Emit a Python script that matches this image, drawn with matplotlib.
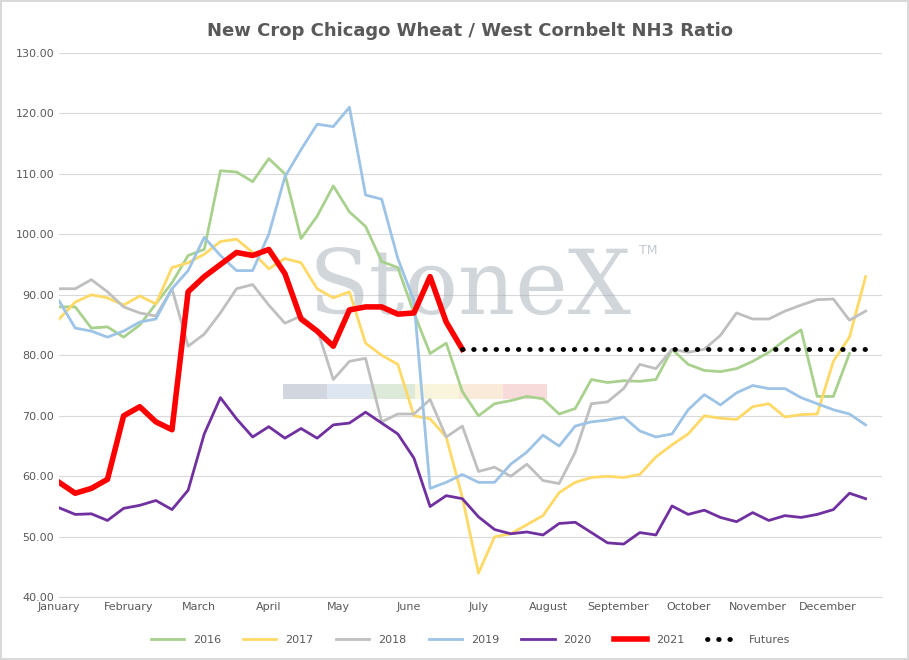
import matplotlib.pyplot as plt

import numpy as np

data = {
  '2016': [88, 88, 84.5, 84.7, 83, 85, 88.5, 92, 96.5, 97.5, 110.5, 110.3, 108.7, 112.5, 110, 99.3, 103, 108, 103.7, 101.3, 95.5, 94.5, 87, 80.3, 82, 74, 70, 72, 72.5, 73.2, 72.8, 70.3, 71.2, 76, 75.5, 75.8, 75.7, 76, 81, 78.5, 77.5, 77.3, 77.8, 79, 80.5, 82.5, 84.2, 73.2, 73.2, 80.3],
  '2017': [86, 88.8, 90, 89.5, 88.3, 89.8, 88.5, 94.5, 95.3, 96.7, 98.8, 99.2, 97, 94.3, 96, 95.3, 91, 89.5, 90.5, 82, 80, 78.5, 70, 69.5, 66.5, 56.5, 44, 50, 50.5, 52, 53.5, 57.3, 59, 59.8, 60, 59.8, 60.3, 63.2, 65.2, 67, 70, 69.6, 69.4, 71.5, 72, 69.8, 70.2, 70.3, 79, 83, 93],
  '2018': [91, 91, 92.5, 90.5, 88, 87, 86.5, 91, 81.5, 83.5, 87, 91, 91.7, 88.3, 85.3, 86.5, 84.3, 76, 79, 79.5, 69, 70.3, 70.3, 72.7, 66.5, 68.3, 60.8, 61.5, 60, 62, 59.3, 58.8, 64, 72, 72.3, 74.5, 78.5, 77.8, 81, 80.5, 81, 83.3, 87, 86, 86, 87.3, 88.3, 89.2, 89.3, 85.8, 87.3],
  '2019': [89, 84.5, 84, 83, 84, 85.5, 86, 91, 94, 99.5, 96.5, 94, 94, 100, 109.5, 114, 118.2, 117.8, 121, 106.5, 105.8, 96, 89, 58, 59, 60.3, 59, 59, 62, 64, 66.8, 65, 68.3, 69, 69.3, 69.8, 67.5, 66.5, 67, 71, 73.5, 71.8, 73.8, 75, 74.5, 74.5, 73, 72, 71, 70.3, 68.5],
  '2020': [54.8, 53.7, 53.8, 52.7, 54.7, 55.2, 56, 54.5, 57.7, 67, 73, 69.5, 66.5, 68.2, 66.3, 67.9, 66.3, 68.5, 68.8, 70.6, 68.8, 67, 63, 55, 56.8, 56.3, 53.3, 51.2, 50.5, 50.8, 50.3, 52.2, 52.4, 50.7, 49, 48.8, 50.7, 50.3, 55.1, 53.7, 54.4, 53.2, 52.5, 54, 52.7, 53.5, 53.2, 53.7, 54.5, 57.2, 56.3],
  '2021': [59, 57.2, 58, 59.5, 70, 71.5, 69, 67.7, 90.5, 93, 95, 97, 96.5, 97.5, 93.5, 86, 84, 81.5, 87.5, 88, 88, 86.8, 87, 93, 85.5, 81],
}

colors = {'2016': '#a9d18e', '2017': '#ffd966', '2018': '#bfbfbf', '2019': '#9dc3e6', '2020': '#7030a0', '2021': '#ff0000'}

futures = 81.0 # flat futures ratio

months = ['January', 'February', 'March', 'April', 'May', 'June', 'July', 'August', 'September', 'October', 'November', 'December']

fig = plt.figure(figsize = (9.09, 6.6), facecolor = 'white', edgecolor = '#d9d9d9', linewidth = 1.5)

ax = plt.gca()

for year, vals in data.items():
  lw = 4 if year == '2021' else 2
  ax.plot(np.arange(len(vals)), vals, color = colors[year], lw = lw, label = year, zorder = 3 if year == '2021' else 2)

ax.plot(np.arange(25, 51), [futures] * 26, ls = (0, (0.1, 2.2)), lw = 3.5, color = 'black', dash_capstyle = 'round', label = 'Futures', zorder = 3)

# watermark
ax.text(0.5, 0.565, 'StoneX', transform = ax.transAxes, fontsize = 64, family = 'serif', color = '#9aa5b1', alpha = 0.45, ha = 'center', va = 'center', zorder = 1)
ax.text(0.705, 0.63, 'TM', transform = ax.transAxes, fontsize = 9, color = '#9aa5b1', alpha = 0.6, zorder = 1)
wm = ['#b4bcc8', '#c8d6e8', '#c9dcc0', '#f4efc6', '#f7dcc0', '#f2c4c4']
for i, c in enumerate(wm):
  ax.axhspan(72.7, 75.3, xmin = 0.272 + i * 0.0535, xmax = 0.3255 + i * 0.0535, color = c, alpha = 0.6, lw = 0, zorder = 1)

ax.set_ylim(40, 130)
ax.set_xlim(0, 51)
ax.set_yticks(np.arange(40, 131, 10))
ax.set_yticklabels(['%.2f' % v for v in np.arange(40, 131, 10)], fontsize = 8, color = '#595959')
ax.set_xticks(np.arange(12) * 52 / 12)
ax.set_xticklabels(months, fontsize = 8, color = '#595959')
ax.tick_params(length = 0)
ax.grid(axis = 'y', color = '#d9d9d9', lw = 0.8)
ax.set_axisbelow(True)
for s in ax.spines.values():
  s.set_visible(False)
ax.spines['bottom'].set_visible(True)
ax.spines['bottom'].set_color('#d9d9d9')

plt.title('New Crop Chicago Wheat / West Cornbelt NH3 Ratio', fontsize = 13, fontweight = 'bold', color = '#595959', pad = 12)

plt.legend(loc = 'upper center', bbox_to_anchor = (0.5, -0.05), ncol = 7, frameon = False, fontsize = 8, labelcolor = '#595959', handlelength = 3)

plt.subplots_adjust(left = 0.065, right = 0.97, top = 0.92, bottom = 0.095)

plt.savefig('out.png', dpi = 100, edgecolor = '#d9d9d9')
